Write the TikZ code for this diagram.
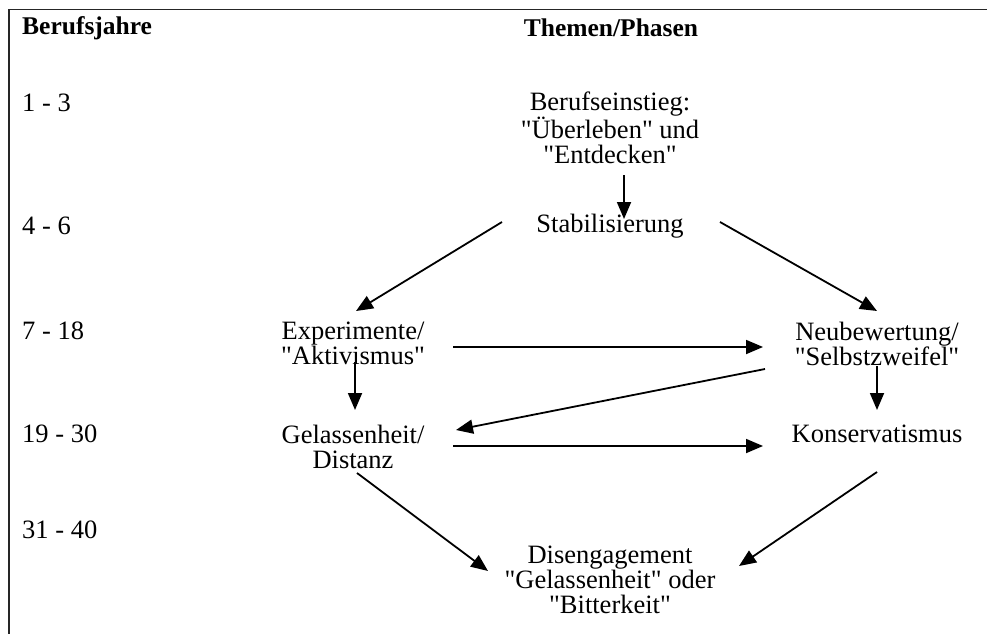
\documentclass[tikz,border=0pt]{standalone}
\usepackage{fontspec}
\setmainfont{Liberation Serif}[Ligatures=TeXOff]
\usetikzlibrary{arrows.meta}
\tikzset{
  lbl/.style={inner sep=0pt, align=center, font=\fontsize{26.5}{25}\selectfont},
  yr/.style={lbl, anchor=west},
  hdr/.style={inner sep=0pt, font=\fontsize{25.5}{25}\selectfont\bfseries},
  arr/.style={line width=1.8pt, -{Triangle[length=17pt,width=14pt]}},
  frame/.style={line width=1.5pt, draw=black!85}
}
\begin{document}
\begin{tikzpicture}[x=1pt,y=-1pt]
\useasboundingbox (0,0) rectangle (987,634);
\draw[frame] (987,9.5) -- (9,9.5) -- (9,634);
% headers
\node[hdr, anchor=west] (h1) at (22,28) {Berufsjahre};
\node[hdr] (h2) at (611,28) {Themen/Phasen};
% years
\node[yr] (y1) at (22,103) {1 - 3};
\node[yr] (y2) at (22,226) {4 - 6};
\node[yr] (y3) at (22,331) {7 - 18};
\node[yr] (y4) at (22,434) {19 - 30};
\node[yr] (y5) at (22,530) {31 - 40};
% phases
\node[lbl] (ein) at (610,128) {Berufseinstieg:\\"Überleben" und\\"Entdecken"};
\node[lbl] (stab) at (610,226) {Stabilisierung};
\node[lbl] (exp) at (353,343.5) {Experimente/\\"Aktivismus"};
\node[lbl] (neu) at (877,343.5) {Neubewertung/\\"Selbstzweifel"};
\node[lbl] (gel) at (353,446.5) {Gelassenheit/\\Distanz};
\node[lbl] (kon) at (877,434) {Konservatismus};
\node[lbl] (dis) at (610,580) {Disengagement\\"Gelassenheit" oder\\"Bitterkeit"};
% connector end points
\coordinate (a1s) at (624,175); \coordinate (a1e) at (624,219);
\coordinate (a2s) at (502,222); \coordinate (a2e) at (356,311);
\coordinate (a3s) at (720,222); \coordinate (a3e) at (877,311);
\coordinate (a4s) at (453,347); \coordinate (a4e) at (763,347);
\coordinate (a5s) at (765,369); \coordinate (a5e) at (456,430);
\coordinate (a6s) at (355,362); \coordinate (a6e) at (355,410);
\coordinate (a7s) at (877,366); \coordinate (a7e) at (877,410);
\coordinate (a8s) at (453,446); \coordinate (a8e) at (763,446);
\coordinate (a9s) at (357,473); \coordinate (a9e) at (488,571);
\coordinate (a10s) at (877,472); \coordinate (a10e) at (739,566);
\draw[arr] (a1s) -- (a1e);
\draw[arr] (a2s) -- (a2e);
\draw[arr] (a3s) -- (a3e);
\draw[arr] (a4s) -- (a4e);
\draw[arr] (a5s) -- (a5e);
\draw[arr] (a6s) -- (a6e);
\draw[arr] (a7s) -- (a7e);
\draw[arr] (a8s) -- (a8e);
\draw[arr] (a9s) -- (a9e);
\draw[arr] (a10s) -- (a10e);
\end{tikzpicture}
\end{document}
